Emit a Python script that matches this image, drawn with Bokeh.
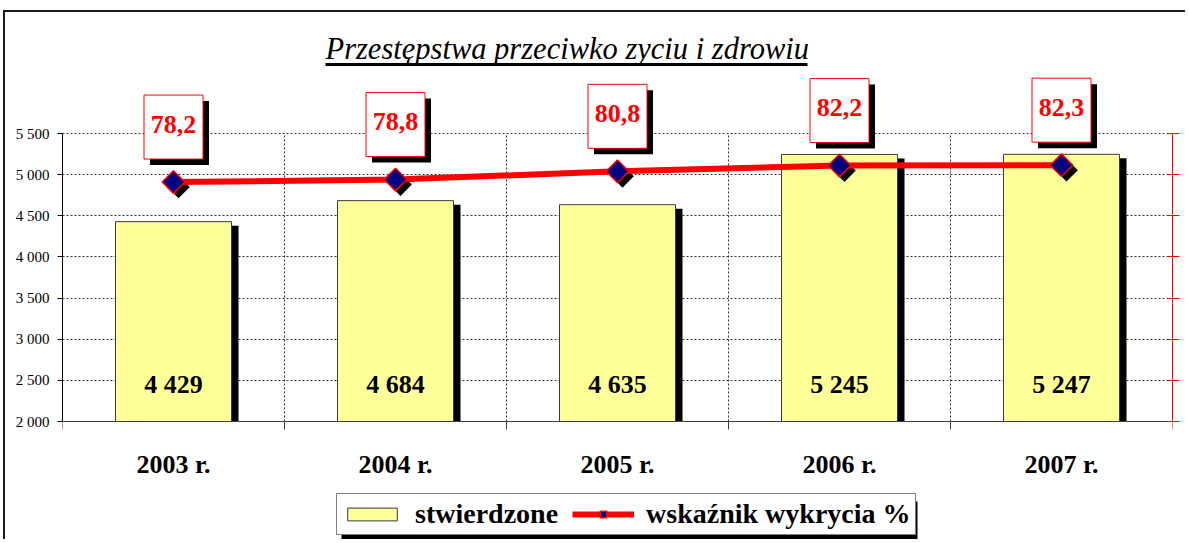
import math
from bokeh.plotting import figure
from bokeh.models import Range1d, LinearAxis, FixedTicker, Legend, LegendItem
from bokeh.core.properties import value
from bokeh.embed import file_html
from bokeh.resources import INLINE

# ---------------- data ----------------
years = ["2003 r.", "2004 r.", "2005 r.", "2006 r.", "2007 r."]
stwierdzone = [4429, 4684, 4635, 5245, 5247]
wskaznik = [78.2, 78.8, 80.8, 82.2, 82.3]
bar_labels = ["4 429", "4 684", "4 635", "5 245", "5 247"]
pct_labels = ["78,2", "78,8", "80,8", "82,2", "82,3"]
left_ticks = [2000, 2500, 3000, 3500, 4000, 4500, 5000, 5500]
left_tick_labels = ["2 000", "2 500", "3 000", "3 500", "4 000", "4 500", "5 000", "5 500"]
right_ticks = [20, 30, 40, 50, 60, 70, 80, 90]
title_text = "Przestępstwa przeciwko zyciu i zdrowiu"
legend_labels = ["stwierdzone", "wskaźnik wykrycia %"]

# ---------------- geometry (screenshot px) ----------------
W, H = 1182, 529
ORG_X, ORG_Y = 5, 12          # canvas origin (css margin + 2px border)
FL, FR, FT = 62, 1172, 20     # frame edges
AX = 421                      # y of the category axis
FB = ORG_Y + H                # frame bottom = canvas bottom
frame_w = FR - FL
L0, L1 = left_ticks[0], left_ticks[-1]
R0, R1 = right_ticks[0], right_ticks[-1]
axis_px = 288                 # px between L0 and L1
upp = (L1 - L0) / axis_px
rupp = (R1 - R0) / axis_px
Y_START = L0 - (FB - AX) * upp
Y_END = L0 + (AX - FT) * upp
R_START = R0 - (FB - AX) * rupp
R_END = R0 + (AX - FT) * rupp
n = len(years)
xs = list(range(1, n + 1))
xupp = n / frame_w

def page_x(px):
    return 0.5 + (px - FL) * xupp

def page_y(py):
    return L0 + (AX - py) * upp

SERIF = "Liberation Serif"

p = figure(width=W, height=H, title=None,
           x_range=Range1d(0.5, n + 0.5), y_range=Range1d(Y_START, Y_END),
           output_backend="svg", toolbar_location=None,
           min_border_left=FL - ORG_X, min_border_right=ORG_X + W - FR,
           min_border_top=FT - ORG_Y, min_border_bottom=0,
           outline_line_color=None, background_fill_color="white",
           border_fill_color="white")
p.styles = {"margin-left": "3px", "margin-top": "10px",
            "border-left": "2px solid #1a1a1a", "border-top": "2px solid #1a1a1a"}
p.extra_y_ranges = {"pct": Range1d(R_START, R_END)}

# ---------------- axes & grids ----------------
bounds_x = [x - 0.5 for x in xs] + [xs[-1] + 0.5]
xt = FixedTicker(ticks=xs, minor_ticks=bounds_x)
xa = p.xaxis[0]
xa.fixed_location = L0
xa.ticker = xt
xa.major_label_overrides = {x: y for x, y in zip(xs, years)}
xa.major_tick_out = 0
xa.major_tick_in = 0
xa.minor_tick_out = 8
xa.minor_tick_in = 0
xa.minor_tick_line_color = "#404040"
xa.axis_line_color = "#404040"
xa.major_label_text_font = SERIF
xa.major_label_text_font_style = "bold"
xa.major_label_text_font_size = "26px"
xa.major_label_text_color = "black"
xa.major_label_standoff = 20

lt = FixedTicker(ticks=left_ticks, minor_ticks=[])
ya = p.yaxis[0]
ya.ticker = lt
ya.bounds = (L0, L1)
ya.major_label_overrides = {t: s for t, s in zip(left_ticks, left_tick_labels)}
ya.major_tick_out = 5
ya.major_tick_in = 0
ya.axis_line_color = "black"
ya.major_tick_line_color = "black"
ya.major_label_text_font = SERIF
ya.major_label_text_font_size = "15px"
ya.major_label_text_color = "black"
ya.major_label_standoff = 8

ra = LinearAxis(y_range_name="pct", ticker=FixedTicker(ticks=right_ticks, minor_ticks=[]),
                bounds=(R0, R1))
ra.axis_line_color = "red"
ra.major_tick_line_color = "red"
ra.major_tick_in = 5
ra.major_tick_out = 7
ra.major_label_overrides = {t: "" for t in right_ticks}
ra.major_label_standoff = 0
p.add_layout(ra, "right")

p.ygrid.ticker = lt
p.ygrid.grid_line_color = "black"
p.ygrid.grid_line_dash = "2 2"
p.ygrid.grid_line_alpha = 0.8
p.xgrid.visible = False
inner = bounds_x[1:-1]
p.segment(x0=inner, y0=[L0] * len(inner), x1=inner, y1=[L1] * len(inner),
          line_color="black", line_dash="2 2", line_alpha=0.8, line_width=1)

# ---------------- bars ----------------
bw = 116 * xupp
p.vbar(x=[x + 7 * xupp for x in xs], top=[v - 4 * upp for v in stwierdzone], bottom=L0,
       width=bw, fill_color="black", line_color=None)
bars = p.vbar(x=xs, top=stwierdzone, bottom=L0, width=bw, fill_color="#FFFF99",
              line_color="#3a3a3a", line_width=1)
p.text(x=xs, y=[L0] * n, text=bar_labels, y_offset=-37, text_align="center",
       text_baseline="middle", text_font=value(SERIF), text_font_style="bold",
       text_font_size="26px", text_color="black")

# ---------------- line ----------------
p.scatter(x=[x + 5 * xupp for x in xs], y=[v - 5 * rupp for v in wskaznik], y_range_name="pct",
          marker="square", angle=math.pi / 4, size=16, fill_color="black", line_color=None)
ln = p.line(x=xs, y=wskaznik, y_range_name="pct", line_color="#FF0000", line_width=6)
mk = p.scatter(x=xs, y=wskaznik, y_range_name="pct", marker="square", angle=math.pi / 4,
               size=16, fill_color="#000080", line_color="#FF0000", line_width=1.5)

# ---------------- value boxes ----------------
box_up = 55 * rupp
p.rect(x=[x + 6 * xupp for x in xs], y=[v + box_up - 6 * rupp for v in wskaznik],
       width=59, height=64, width_units="screen", height_units="screen",
       y_range_name="pct", fill_color="black", line_color=None)
p.rect(x=xs, y=[v + box_up for v in wskaznik], width=59, height=64,
       width_units="screen", height_units="screen", y_range_name="pct",
       fill_color="white", line_color="#FF0000", line_width=1)
p.text(x=xs, y=[v + box_up for v in wskaznik], text=pct_labels, y_offset=-3,
       y_range_name="pct", text_align="center", text_baseline="middle",
       text_font=value(SERIF), text_font_style="bold", text_font_size="26px",
       text_color="#FF0000")

# ---------------- title ----------------
p.text(x=[page_x(325)], y=[page_y(48)], text=[title_text], text_align="left",
       text_baseline="middle", text_font=value(SERIF), text_font_style="italic",
       text_font_size="30.5px", text_color="black")
p.segment(x0=[page_x(325)], y0=[page_y(64)], x1=[page_x(807)], y1=[page_y(64)],
          line_color="black", line_width=3)

# ---------------- legend (with drop shadow) ----------------
LEG_L, LEG_R, LEG_T, LEG_B = 336, 912, 496, 535
p.rect(x=[page_x((LEG_L + LEG_R) / 2 + 5)], y=[page_y((LEG_T + LEG_B) / 2 + 5)],
       width=LEG_R - LEG_L, height=LEG_B - LEG_T, width_units="screen",
       height_units="screen", fill_color="black", line_color=None)
legend = Legend(items=[LegendItem(label=legend_labels[0], renderers=[bars]),
                       LegendItem(label=legend_labels[1], renderers=[ln, mk])],
                orientation="horizontal", location=(LEG_L - FL, FB - LEG_B), margin=0,
                padding=4, spacing=14, label_standoff=12, glyph_width=62, glyph_height=16,
                border_line_color="black", border_line_width=1,
                background_fill_color="white", background_fill_alpha=1,
                label_text_font=SERIF, label_text_font_style="bold",
                label_text_font_size="28px", label_text_color="black")
p.add_layout(legend, "center")

open("out.html", "w").write(file_html(p, INLINE))
